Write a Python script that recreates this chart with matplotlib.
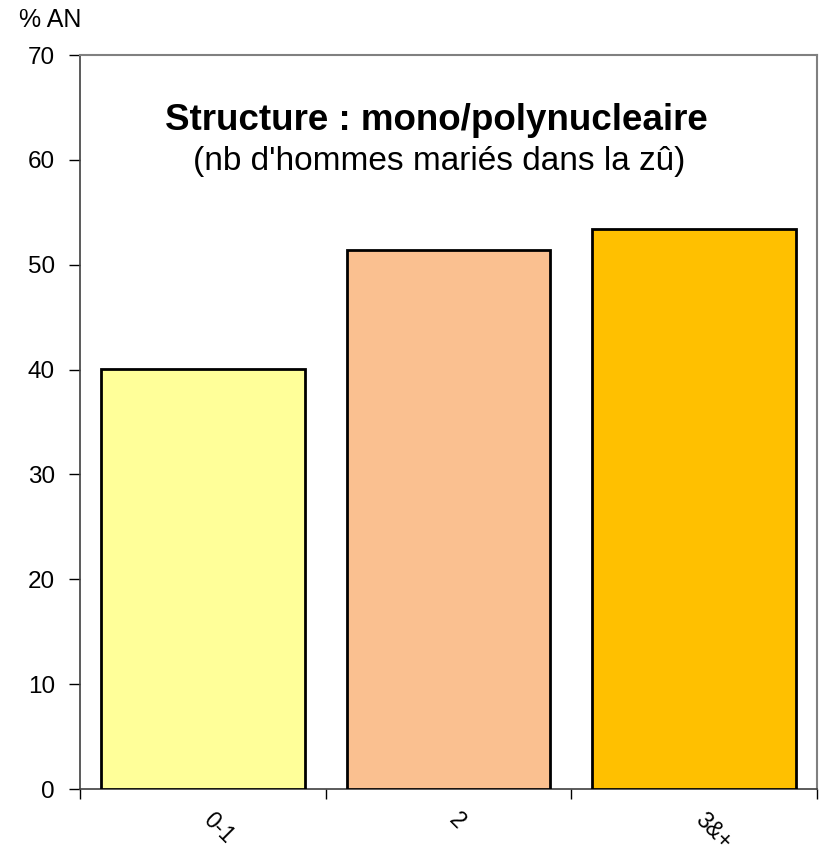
import numpy as np
import matplotlib.pyplot as plt
from matplotlib.transforms import ScaledTranslation

plt.rcParams['font.family'] = ['Liberation Sans', 'DejaVu Sans']

categories = ["0-1", "2", "3&+"]
values = [40.1, 51.4, 53.4]
colors = ["#FFFF99", "#FAC090", "#FFC000"]

fig = plt.figure(figsize=(8.19, 8.56), dpi=100)
ax = fig.add_axes([80 / 819, 1 - 789 / 856, 737 / 819, 734 / 856])

x = np.arange(len(categories))
ax.bar(x, values, width=0.83, color=colors, edgecolor="black", linewidth=2, zorder=3)

ax.set_xlim(-0.5, len(categories) - 0.5)
ax.set_ylim(0, 70)
ax.set_yticks(range(0, 71, 10))
ax.tick_params(axis="y", labelsize=17.5, length=8, width=1, direction="out", pad=10)

# ticks sit on the category boundaries, labels at the centres
ax.set_xticks(np.arange(-0.5, len(categories), 1.0))
ax.set_xticklabels([])
ax.set_xticks(x, minor=True)
ax.set_xticklabels(categories, minor=True, rotation=-45, ha="left", va="top", fontsize=16.5)
ax.tick_params(axis="x", which="major", length=7, width=1, direction="out")
ax.tick_params(axis="x", which="minor", length=0, pad=14)
shift = ScaledTranslation(-4 / 100, 0, fig.dpi_scale_trans)
for lab in ax.get_xticklabels(minor=True):
    lab.set_transform(lab.get_transform() + shift)

for side in ("top", "right"):
    ax.spines[side].set_color("#808080")
    ax.spines[side].set_linewidth(1.5)
for side in ("left", "bottom"):
    ax.spines[side].set_color("#404040")
    ax.spines[side].set_linewidth(1.2)

ax.text(0.483, 0.898, "Structure : mono/polynucleaire", transform=ax.transAxes,
        ha="center", va="baseline", fontsize=26.5, fontweight="bold")
ax.text(0.487, 0.843, "(nb d'hommes mariés dans la zû)", transform=ax.transAxes,
        ha="center", va="baseline", fontsize=24)

fig.text(19 / 819, 1 - 20 / 856, "% AN", ha="left", va="center", fontsize=18)

fig.savefig("out.png", dpi=100)
